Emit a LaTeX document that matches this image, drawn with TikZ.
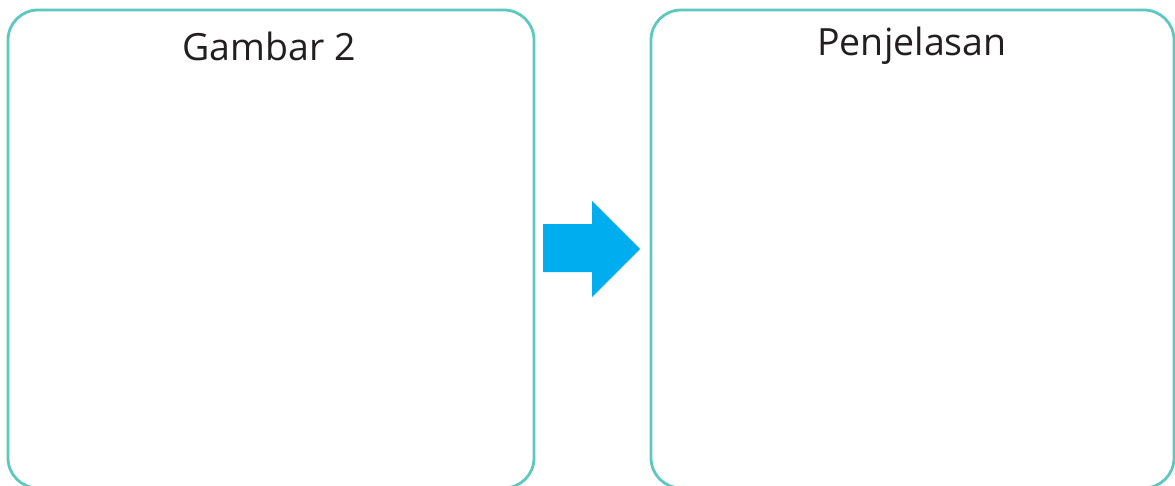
\documentclass[tikz,border=0pt]{standalone}
\usepackage{fontspec}
\setmainfont{Open Sans}
\definecolor{frame}{HTML}{5CC8BF}
\definecolor{arrowblue}{HTML}{00AEEF}
\definecolor{ink}{HTML}{231F20}
\tikzset{
  panel/.style={draw=frame, line width=2.8pt, rounded corners=30pt},
  title/.style={text=ink, font=\fontsize{37.5}{44}\selectfont, anchor=center, inner sep=0pt},
  bigarrow/.style={fill=arrowblue, draw=none}
}
\begin{document}
\begin{tikzpicture}[x=1pt,y=-1pt]
\useasboundingbox (0,0) rectangle (1175,485);
\clip (0,0) rectangle (1175,485);
\fill[white] (0,0) rectangle (1175,485);
\draw[panel] (8,10) rectangle (534,488);
\draw[panel] (651,10) rectangle (1174,488);
\node[title] (g) at (269,46) {Gambar 2};
\node[title] (p) at (912,46) {Penjelasan};
\fill[bigarrow] (543,224) -- (592,224) -- (592,201) -- (640,249) -- (592,297) -- (592,272) -- (543,272) -- cycle;
\end{tikzpicture}
\end{document}
